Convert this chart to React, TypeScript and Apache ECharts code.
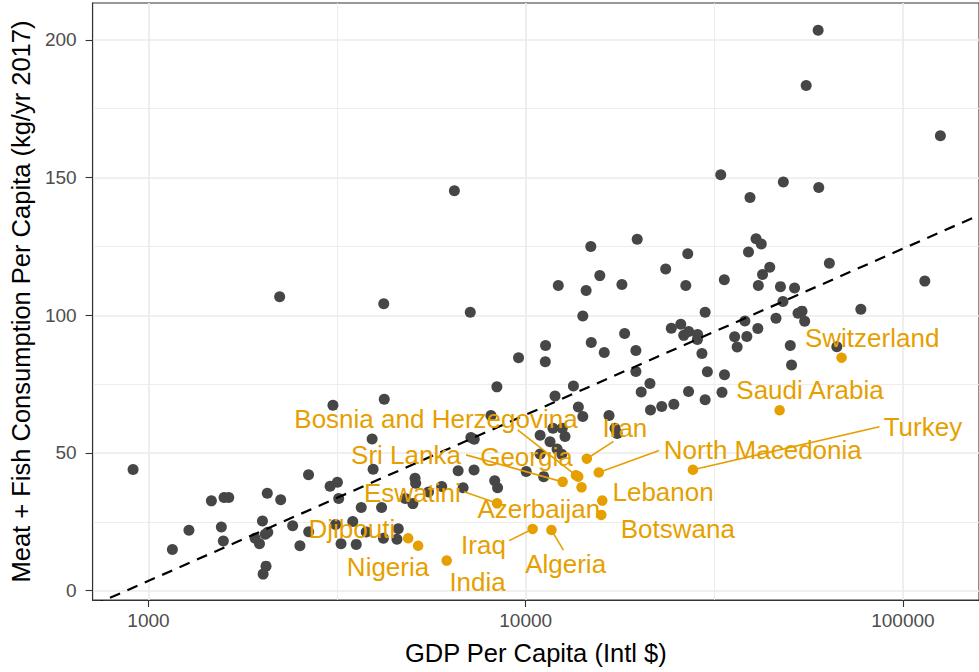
import React, { useEffect, useRef } from "react";
import * as echarts from "echarts";

// ---- Data (GDP per capita in Intl $, meat + fish kg/yr) ----
const greyGdp = [
  910, 1157, 1280, 1468, 1586, 1632, 1560, 1579, 2005, 2065,
  2241, 1917, 1969, 2040, 2071, 2049, 2013, 2411, 2520, 2656,
  2659, 3030, 3168, 3193, 3133, 3239, 2227, 4204, 6470, 7129,
  3083, 4217, 3916, 3940, 3479, 3777, 3554, 4195, 4557, 4593,
  3664, 4149, 4792, 5022, 5089, 5108, 5524, 5989, 6620, 7295,
  6823, 7155, 7303, 8088, 8387, 9572, 8276, 8422, 10030, 11160,
  10920, 10920, 11600, 12110, 12460, 11810, 12500, 12710, 11290, 11270,
  11960, 13380, 13790, 14170, 14920, 16150, 16630, 17250, 17480, 18290,
  19590, 19590, 21350, 20240, 21420, 22940, 24700, 27020, 29900, 33140,
  14880, 12200, 14460, 15720, 14170, 17990, 19750, 23500, 26890, 26570,
  24320, 25770, 26240, 27040, 28560, 28520, 29320, 30310, 33650, 29900,
  32890, 39320, 33610, 35800, 36350, 38570, 38110, 41240, 40800, 42120,
  38960, 44360, 42450, 41370, 47350, 51610, 48080, 46080, 52720, 54010,
  54900, 50280, 50670, 48190, 59820, 59600, 55400, 63830, 77350, 66800,
  114300, 125700,
];
const greyMeat = [
  44.0, 14.9, 21.9, 32.6, 33.8, 33.8, 23.1, 18.0, 25.3, 35.4,
  33.0, 19.0, 17.0, 20.5, 21.2, 8.9, 6.0, 23.6, 16.3, 42.1,
  21.4, 37.9, 39.4, 33.5, 24.0, 17.0, 106.7, 104.2, 145.2, 101.1,
  67.3, 69.5, 55.1, 44.1, 25.1, 21.3, 16.8, 19.0, 18.7, 22.5,
  30.2, 30.2, 33.5, 31.6, 40.8, 39.0, 35.8, 37.8, 43.5, 43.8,
  37.4, 55.6, 55.0, 63.6, 74.0, 84.6, 39.9, 37.4, 43.3, 41.4,
  56.4, 49.6, 54.1, 51.4, 49.5, 59.0, 59.0, 56.0, 89.0, 83.1,
  70.7, 74.3, 66.7, 63.2, 90.1, 86.5, 63.6, 59.0, 57.1, 93.4,
  87.2, 79.6, 75.2, 72.1, 65.6, 66.9, 67.7, 72.3, 69.3, 72.0,
  125.0, 110.8, 109.0, 114.4, 99.7, 111.2, 127.6, 116.8, 122.3, 110.8,
  95.3, 96.7, 92.7, 94.1, 93.0, 91.2, 86.1, 79.5, 78.4, 101.1,
  151.0, 142.8, 112.9, 92.2, 88.5, 92.3, 97.9, 95.2, 127.8, 125.9,
  123.0, 117.4, 114.8, 110.8, 110.4, 109.9, 105.0, 98.9, 100.7, 101.5,
  97.8, 89.0, 81.9, 148.4, 146.4, 203.5, 183.4, 118.9, 102.2, 88.6,
  112.4, 165.2,
];

const hlNames = [
  "Switzerland", "Saudi Arabia", "Turkey", "North Macedonia", "Iran",
  "Bosnia and Herzegovina", "Georgia", "Sri Lanka", "Azerbaijan", "Lebanon",
  "Botswana", "Algeria", "Iraq", "Eswatini", "India", "Nigeria", "Djibouti",
];
const hlGdp = [
  68770, 47110, 27750, 15620, 14520,
  13590, 13780, 12530, 14060, 15960,
  15860, 11700, 10430, 8397, 6173, 5186, 4880,
];
const hlMeat = [
  84.6, 65.5, 43.9, 42.9, 47.9,
  41.9, 41.4, 39.5, 37.5, 32.7,
  27.5, 22.0, 22.4, 31.7, 10.9, 16.3, 19.0,
];

// layout of the repelled labels: pixel offset of each label centre from its point
const labelOffsets: [number, number][] = [
  [30.6, -19.7], [30.4, -19.8], [230, -42.6], [164, -22.2], [38.1, -30.8],
  [-140, -56.5], [-51.8, -19.7], [-156.7, -26.5], [-42.7, 22], [60.8, -8.6],
  [76.6, 13.7], [14.2, 34.2], [-49.1, 16.5], [-84.7, -10.3], [30.9, 21.5],
  [-30.1, 21.4], [-56.3, -9.5],
];
// layout of the label segments: pixel offset of the segment's far end from its point
const segmentEnds: ([number, number] | null)[] = [
  null, null, [186.6, -43], [60.3, -22], [26.7, -17.3],
  [-58.3, -45.3], null, [-96.7, -27], null, null,
  null, [12, 20], [-23.5, 11.7], [-33, -11.6], null,
  null, null,
];

// axes
const xTickValues = [1000, 10000, 100000];
const xMinorValues = [3162.28, 31622.8];
const yTickValues = [0, 50, 100, 150, 200];
const yMinorValues = [25, 75, 125, 175];
const X_MIN = 2.8518; // log10 of axis limits
const X_MAX = 5.2017;
const Y_MIN = -3.4;
const Y_MAX = 213.4;

// fitted trend: meat = a + b * (log10(gdp) - 3)
const trendAt1000 = 3.54;
const trendPerDecade = 60.32;

const FONT = "'Liberation Sans', Arial, Helvetica, sans-serif";
const GREY = "#464646";
const ORANGE = "#E69F00";
const GRID = "#EBEBEB";
const DARK = "#333333";

function trend(lx: number) {
  return trendAt1000 + trendPerDecade * (lx - 3);
}

export default function App() {
  const ref = useRef<HTMLDivElement>(null);

  useEffect(() => {
    if (!ref.current) return;
    const chart = echarts.init(ref.current, undefined, { renderer: "svg" });

    const option: any = {
      animation: false,
      backgroundColor: "#ffffff",
      textStyle: { fontFamily: FONT },
      grid: {
        left: 89,
        top: 3,
        width: 892,
        height: 597,
        show: true,
        backgroundColor: "#ffffff",
        borderColor: DARK,
        borderWidth: 1.1,
      },
      xAxis: [
        {
          type: "value",
          min: X_MIN,
          max: X_MAX,
          position: "bottom",
          name: "GDP Per Capita (Intl $)",
          nameLocation: "middle",
          nameGap: 40,
          nameTextStyle: { fontSize: 25.5, color: "#000", fontFamily: FONT },
          axisLine: { show: true, onZero: false, lineStyle: { color: DARK, width: 1.1 } },
          axisTick: {
            show: true,
            length: 7,
            customValues: xTickValues.map((v) => Math.log10(v)),
            lineStyle: { color: DARK, width: 1.1 },
          },
          axisLabel: {
            customValues: xTickValues.map((v) => Math.log10(v)),
            formatter: (v: number) => String(Math.round(Math.pow(10, v))),
            fontSize: 19,
            color: "#4D4D4D",
            margin: 11,
            fontFamily: FONT,
          },
          splitLine: { show: true, lineStyle: { color: GRID, width: 1.7 } },
        },
        {
          type: "value",
          min: X_MIN,
          max: X_MAX,
          position: "top",
          axisLine: { show: false },
          axisTick: { show: false, customValues: xMinorValues.map((v) => Math.log10(v)) },
          axisLabel: { show: false, customValues: xMinorValues.map((v) => Math.log10(v)) },
          splitLine: { show: true, lineStyle: { color: GRID, width: 0.9 } },
        },
      ],
      yAxis: [
        {
          type: "value",
          min: Y_MIN,
          max: Y_MAX,
          position: "left",
          name: "Meat + Fish Consumption Per Capita (kg/yr 2017)",
          nameLocation: "middle",
          nameGap: 54,
          nameRotate: 90,
          nameTextStyle: { fontSize: 25.5, color: "#000", fontFamily: FONT },
          axisLine: { show: true, onZero: false, lineStyle: { color: DARK, width: 1.1 } },
          axisTick: {
            show: true,
            length: 7,
            customValues: yTickValues,
            lineStyle: { color: DARK, width: 1.1 },
          },
          axisLabel: {
            customValues: yTickValues,
            fontSize: 19,
            color: "#4D4D4D",
            margin: 16,
            fontFamily: FONT,
          },
          splitLine: { show: true, lineStyle: { color: GRID, width: 1.7 } },
        },
        {
          type: "value",
          min: Y_MIN,
          max: Y_MAX,
          position: "right",
          axisLine: { show: false },
          axisTick: { show: false, customValues: yMinorValues },
          axisLabel: { show: false, customValues: yMinorValues },
          splitLine: { show: true, lineStyle: { color: GRID, width: 0.9 } },
        },
      ],
      series: [
        {
          type: "scatter",
          xAxisIndex: 0,
          yAxisIndex: 0,
          silent: true,
          symbol: "circle",
          symbolSize: 11,
          itemStyle: { color: GREY, opacity: 1 },
          data: greyGdp.map((g, i) => [Math.log10(g), greyMeat[i]]),
          z: 3,
        },
        {
          type: "line",
          xAxisIndex: 0,
          yAxisIndex: 0,
          silent: true,
          showSymbol: false,
          symbol: "none",
          clip: true,
          lineStyle: { color: "#000", width: 2.2, type: [11, 8] },
          data: [
            [X_MIN, trend(X_MIN)],
            [X_MAX, trend(X_MAX)],
          ],
          z: 4,
        },
        {
          type: "scatter",
          xAxisIndex: 0,
          yAxisIndex: 0,
          silent: true,
          symbol: "circle",
          symbolSize: 10.5,
          itemStyle: { color: ORANGE, opacity: 1 },
          label: {
            show: true,
            position: "inside",
            formatter: "{b}",
            fontSize: 26,
            color: ORANGE,
            fontFamily: FONT,
            textBorderWidth: 0,
          },
          labelLine: { show: false },
          labelLayout: (p: any) => ({
            dx: labelOffsets[p.dataIndex][0],
            dy: labelOffsets[p.dataIndex][1],
          }),
          data: hlGdp.map((g, i) => ({
            name: hlNames[i],
            value: [Math.log10(g), hlMeat[i]],
          })),
          z: 5,
        },
      ],
    };

    chart.setOption(option);

    // label segments, anchored on each point's position through the chart's own scales
    const segments: any[] = [];
    hlGdp.forEach((g, i) => {
      const end = segmentEnds[i];
      if (!end) return;
      const p = chart.convertToPixel({ seriesIndex: 2 }, [Math.log10(g), hlMeat[i]]) as number[];
      if (!p) return;
      segments.push({
        type: "line",
        silent: true,
        z: 4,
        shape: { x1: p[0], y1: p[1], x2: p[0] + end[0], y2: p[1] + end[1] },
        style: { stroke: ORANGE, lineWidth: 1.6 },
      });
    });
    chart.setOption({ graphic: segments });

    return () => chart.dispose();
  }, []);

  return (
    <div
      ref={ref}
      style={{ position: "fixed", left: 0, top: 0, width: 979, height: 672, background: "#fff" }}
    />
  );
}
